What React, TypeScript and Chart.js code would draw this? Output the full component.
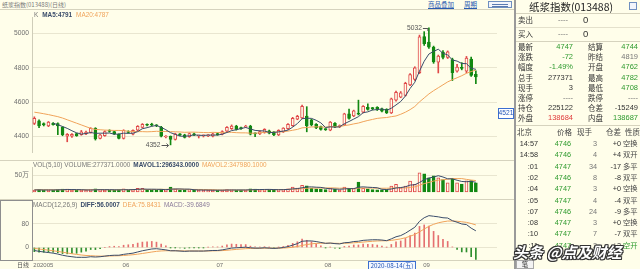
import React, { useEffect, useRef } from "react";
import { Chart, registerables } from "chart.js";
Chart.register(...registerables);

// ---------- data ----------
const dates = [
  "2020-04-30",
  "2020-05-06","2020-05-07","2020-05-08","2020-05-11","2020-05-12","2020-05-13","2020-05-14","2020-05-15","2020-05-18","2020-05-19",
  "2020-05-20","2020-05-21","2020-05-22","2020-05-25","2020-05-26","2020-05-27","2020-05-28","2020-05-29",
  "2020-06-01","2020-06-02","2020-06-03","2020-06-04","2020-06-05","2020-06-08","2020-06-09","2020-06-10","2020-06-11","2020-06-12",
  "2020-06-15","2020-06-16","2020-06-17","2020-06-18","2020-06-19","2020-06-22","2020-06-23","2020-06-24","2020-06-29","2020-06-30",
  "2020-07-01","2020-07-02","2020-07-03","2020-07-06","2020-07-07","2020-07-08","2020-07-09","2020-07-10","2020-07-13","2020-07-14",
  "2020-07-15","2020-07-16","2020-07-17","2020-07-20","2020-07-21","2020-07-22","2020-07-23","2020-07-24","2020-07-27","2020-07-28",
  "2020-07-29","2020-07-30","2020-07-31",
  "2020-08-03","2020-08-04","2020-08-05","2020-08-06","2020-08-07","2020-08-10","2020-08-11","2020-08-12","2020-08-13","2020-08-14",
  "2020-08-17","2020-08-18","2020-08-19","2020-08-20","2020-08-21","2020-08-24","2020-08-25","2020-08-26","2020-08-27","2020-08-28",
  "2020-08-31",
  "2020-09-01","2020-09-02","2020-09-03","2020-09-04","2020-09-07","2020-09-08","2020-09-09","2020-09-10","2020-09-11","2020-09-14",
  "2020-09-15","2020-09-16",
];
const opens = [4477,4492,4476,4462,4478,4476,4455,4402,4402,4418,4412,4416,4424,4448,4390,4406,4436,4430,4414,4390,
  4430,4414,4438,4454,4470,4468,4468,4456,4398,4402,4384,4414,4410,4400,4416,4404,4404,4404,4402,4418,
  4414,4432,4446,4462,4452,4456,4462,4418,4416,4425,4434,4428,4410,4428,4446,4464,4502,4508,4520,4498,
  4472,4458,4442,4438,4478,4458,4468,4532,4520,4536,4542,4570,4564,4570,4562,4558,4538,4612,4630,4640,
  4700,4732,4772,4982,4950,4920,4832,4892,4860,4848,4780,4802,4780,4850,4762];
const highs = [4515,4498,4480,4488,4482,4480,4458,4418,4418,4420,4436,4432,4452,4452,4414,4434,4440,4432,4416,4440,
  4434,4440,4464,4476,4474,4478,4470,4460,4406,4404,4420,4418,4414,4422,4420,4408,4410,4412,4420,4422,
  4434,4458,4468,4466,4456,4466,4466,4422,4434,4446,4438,4430,4440,4452,4476,4512,4524,4584,4574,4502,
  4476,4462,4446,4488,4482,4468,4536,4560,4554,4612,4580,4590,4570,4574,4566,4562,4624,4664,4662,4716,
  4766,4806,4990,5010,5032,4926,4874,4900,4898,4856,4820,4830,4866,4862,4782];
const lows = [4470,4452,4462,4458,4466,4412,4405,4370,4396,4402,4408,4412,4420,4380,4386,4402,4426,4412,4386,4386,
  4420,4410,4434,4450,4462,4462,4458,4398,4392,4352,4380,4406,4392,4396,4406,4392,4398,4400,4398,4408,
  4410,4428,4442,4438,4442,4452,4410,4400,4412,4420,4416,4406,4406,4424,4442,4460,4498,4504,4428,4462,
  4446,4438,4436,4434,4452,4452,4464,4502,4516,4526,4538,4554,4555,4552,4544,4534,4534,4606,4626,4636,
  4696,4726,4766,4930,4912,4826,4770,4852,4854,4726,4774,4788,4770,4750,4708];
const closes = [4507,4462,4468,4484,4470,4462,4412,4414,4414,4406,4428,4426,4448,4386,4410,4430,4430,4416,4390,4436,
  4424,4436,4460,4472,4466,4467,4462,4402,4402,4384,4416,4410,4396,4418,4410,4404,4405,4408,4416,4412,
  4430,4454,4462,4442,4446,4462,4414,4416,4430,4442,4420,4410,4437,4449,4472,4506,4518,4576,4463,4468,
  4450,4442,4441,4484,4456,4464,4532,4506,4550,4530,4576,4558,4563,4558,4548,4538,4620,4658,4654,4710,
  4760,4800,4980,4940,4920,4834,4868,4860,4893,4772,4804,4796,4856,4756,4747];
const ma5 = [null,null,null,null,4478,4469,4459,4448,4434,4422,4415,4418,4424,4419,4420,4420,4421,4414,4415,4420,
  4419,4420,4429,4446,4452,4460,4465,4454,4440,4423,4413,4403,4402,4405,4410,4408,4407,4409,4409,4409,
  4414,4424,4435,4440,4447,4453,4445,4436,4434,4433,4424,4424,4428,4432,4438,4455,4476,4504,4507,4506,
  4495,4480,4453,4457,4455,4457,4475,4488,4502,4516,4539,4544,4555,4557,4561,4553,4565,4584,4604,4636,
  4680,4716,4781,4838,4880,4895,4908,4884,4875,4845,4839,4825,4824,4797,4791];
const ma20 = [4542,4538,4533,4528,4522,4516,4508,4498,4488,4478,4468,4458,4448,4442,4440,4438,4437,4436,4436,4435,
  4431,4430,4429,4429,4428,4429,4431,4430,4430,4429,4428,4427,4425,4426,4426,4425,4424,4423,4425,4424,
  4424,4425,4425,4423,4422,4422,4420,4420,4422,4425,4425,4425,4427,4428,4432,4437,4442,4451,4453,4456,
  4457,4456,4455,4457,4458,4458,4464,4468,4474,4479,4487,4494,4500,4506,4509,4511,4516,4520,4530,4542,
  4557,4575,4602,4625,4648,4667,4684,4701,4718,4731,4742,4754,4768,4778,4787];
// volume in 万手
const volumes = [6,7,5.5,6.5,6,7.5,9,8.5,6,5.5,6,5.5,7,9.5,7,6,5.5,6,7,10,
  6,7,11,11.5,7,6,6,9,7,15,9,6,6.5,7,6,5.5,5,5.5,6,5.5,
  6,7,6.5,6,5.5,6,10,9,6.5,7,7,7.5,7,7.5,10,15,12,20,19,12,
  10,9,7,11,8,6,15,11,11,30,11,10,7,6.5,6.5,7,18,23,13,18,
  33,23,58,55,43,49,43,38,28,41.8,28,24,34,34.5,27.7371];
const mavol1 = [6.3,6.4,6.2,6.1,6.2,6.5,6.9,7.5,7.4,7.3,7.0,6.3,6.0,6.7,7.0,7.0,7.0,6.8,6.3,6.9,
  6.9,7.2,8.2,9.1,8.5,8.5,8.3,7.9,7.0,8.6,9.2,9.2,8.7,8.7,6.9,6.2,6.0,5.8,5.6,5.5,
  5.6,6.0,6.2,6.2,6.2,6.2,6.8,7.3,7.4,7.7,7.9,7.4,7.0,7.2,7.8,9.4,10.3,12.9,15.2,15.6,
  14.6,14.0,11.4,9.8,9.0,8.2,9.4,10.2,10.2,14.6,15.6,14.6,13.8,12.9,8.2,7.4,9.0,12.2,13.5,15.8,
  21.0,22.0,29.0,37.4,42.4,45.6,49.6,45.6,40.2,40.0,35.8,32.0,31.2,32.5,29.6];
const mavol2 = [6.8,6.8,6.7,6.7,6.6,6.6,6.7,6.8,6.8,6.75,6.75,6.6,6.75,7.05,7.15,7.0,6.65,6.4,6.5,6.95,
  6.95,7.1,7.5,7.7,7.7,7.7,7.75,8.05,8.05,8.55,8.85,8.75,8.3,7.85,7.75,7.7,7.6,7.25,7.15,6.2,
  5.9,6.0,6.0,5.9,5.85,5.9,6.4,6.75,6.8,6.95,7.05,7.1,7.15,7.3,7.75,8.65,8.85,9.95,11.2,11.7,
  12.0,12.15,12.15,12.5,12.3,11.4,11.7,10.8,10.0,11.8,11.9,12.0,12.0,11.55,11.4,11.5,11.8,13.0,13.2,12.0,
  14.2,15.5,20.6,25.45,29.1,33.3,35.8,37.3,38.8,41.2,40.7,40.8,38.4,36.3,34.8];
const diff = [-10,-13,-15,-17,-19,-22,-26,-29,-31,-33,-33,-33,-31,-32,-31,-29,-27,-26,-26,-23,
  -21,-19,-15,-11,-8,-5,-4,-6,-8,-11,-11,-12,-13,-12,-12,-12,-12,-11,-10,-10,
  -8,-5,-2,-1,0,1,-1,-2,-2,-1,-2,-3,-2,0,3,8,13,21,22,22,
  20,17,14,15,13,12,16,17,20,21,24,25,26,26,25,23,29,36,40,48,
  58,68,88,100,107,105,103,100,99,90,85,79,77,65,56];
const dea = [-3,-5,-7,-9,-11,-13.2,-15.8,-18.4,-20.9,-23.3,-25.2,-26.8,-27.6,-28.5,-29,-29,-28.6,-28.1,-27.7,-26.8,
  -25.6,-24.3,-22.4,-20.1,-17.7,-15.2,-13,-11.6,-10.9,-10.9,-10.9,-11.1,-11.5,-11.6,-11.7,-11.8,-11.8,-11.6,-11.3,-11,
  -10.4,-9.3,-7.8,-6.4,-5.1,-3.9,-3.3,-3,-2.8,-2.4,-2.3,-2.4,-2.3,-1.8,-0.8,1,3.4,6.9,9.9,12.3,
  13.8,14.4,14.3,14.4,14.1,13.7,14.2,14.8,15.8,16.8,18.2,19.6,20.9,21.9,22.5,22.6,23.9,26.3,29,32.8,
  37.8,43.8,52.6,62.1,71.1,77.9,82.9,86.3,88.8,89,88.2,86.4,84.5,80.6,75.8];
const macd = [-14,-16,-16,-16,-16,-17.6,-20.4,-21.2,-20.2,-19.4,-15.6,-12.4,-6.8,-7,-4,0,3.2,4.2,3.4,7.6,
  9.2,10.6,14.8,18.2,19.4,20.4,18,11.2,5.8,-0.2,-0.2,-1.8,-3,-0.8,-0.6,-0.4,-0.4,1.2,2.6,2,
  4.8,8.6,11.6,10.8,10.2,9.8,4.6,2,1.6,2.8,0.6,-1.2,0.6,3.6,7.6,14,19.2,28.2,24.2,19.4,
  12.4,5.2,-0.6,1.2,-2.2,-3.4,3.6,4.4,8.4,8.4,11.6,10.8,10.2,8.2,5,0.8,10.2,19.4,22,30.4,
  40.4,48.4,70.8,75.8,71.8,54.2,40.2,27.4,20.4,2,-6.4,-14.8,-15,-31.2,-39.7];

const priceTicks = [4400, 4600, 4800, 5000];
const volTicks = [50];
const macdTicks = [0, 80];
const monthLabels = ["202005", "06", "07", "08", "09"];
const crossDate = "2020-08-14";
const crossDateLabel = "2020-08-14(五)";
const crossPrice = 4521;

const quoteRows = [
  ["最新", "4747", "结算", "4744"],
  ["涨跌", "-72", "昨结", "4819"],
  ["幅度", "-1.49%", "开盘", "4762"],
  ["总手", "277371", "最高", "4782"],
  ["现手", "3", "最低", "4708"],
  ["涨停", "----", "跌停", "----"],
  ["持仓", "225122", "仓差", "-15249"],
  ["外盘", "138684", "内盘", "138687"],
];
const tradeHeader = ["北京", "价格", "现手", "仓差", "性质"];
const tradeRows = [
  ["14:57", "4746", "3", "+0", "空换"],
  ["14:58", "4746", "4", "+4", "双开"],
  [":01", "4747", "34", "-17", "多平"],
  [":02", "4746", "8", "-8", "双平"],
  [":04", "4747", "3", "+0", "空换"],
  [":05", "4747", "4", "-4", "双平"],
  [":07", "4746", "24", "-9", "多平"],
  [":08", "4747", "3", "+0", "空换"],
  [":10", "4747", "7", "-7", "双平"],
  [":11", "4747", "2", "+2", "空开"],
];

// ---------- styles ----------
const BG = "#FFFEEA";
const RED = "#E04848";
const GREEN = "#128812";
const NAVY = "#3A4C6A";
const ORANGE = "#F0A35A";
const GRID = "#E9E6D0";
const AXIS = "#CFCDB9";
const LINE = "#D6D3BE";
const FONT = "'Liberation Sans', 'Noto Sans CJK SC', sans-serif";
const CJK = "'Noto Sans CJK SC', 'Liberation Sans', sans-serif";
const QG = "#2E9A2E";
const QR = "#E03A3A";
const QD = "#333333";
const QGRAY = "#777777";

const quoteColors = [
  [QG, QG], [QG, QGRAY], [QG, QG], [QD, QG], [QD, QG], [QGRAY, QGRAY], [QD, QD], [QR, QG],
];

const up = closes.map((c, i) => c >= opens[i]);
const pts = (arr: (number | null)[]) => arr.map((v, i) => ({ x: i, y: v }));
const monthStarts = dates
  .map((d, i) => (i > 0 && d.slice(5, 7) !== dates[i - 1].slice(5, 7) ? i : -1))
  .filter((i) => i >= 0);
const tickIdx = [0, ...monthStarts.slice(1)];

function yAxis(min: number, max: number, ticks: number[], fmt?: (v: number) => string) {
  return {
    min,
    max,
    bounds: "data",
    position: "left" as const,
    afterFit: (s: any) => { s.width = 32; },
    afterBuildTicks: (s: any) => {
      s.min = min;
      s.max = max;
      s.ticks = ticks.map((v) => ({ value: v }));
    },
    ticks: {
      font: { size: 6.7, family: FONT },
      color: "#6E6E6E",
      padding: 3,
      callback: (v: any) => (fmt ? fmt(v) : String(v)),
    },
    grid: { color: GRID, drawTicks: false, lineWidth: 1 },
    border: { display: true, color: AXIS },
  };
}

const X_MIN = -0.5;
const X_MAX = 98.5;
const xHidden = {
  type: "linear" as const,
  min: X_MIN,
  max: X_MAX,
  bounds: "data",
  offset: false,
  display: false,
  afterBuildTicks: (s: any) => {
    s.min = X_MIN;
    s.max = X_MAX;
    s.ticks = [{ value: X_MIN }, { value: X_MAX }];
  },
};

function lineDs(data: (number | null)[], color: string) {
  return {
    type: "line" as const,
    data: pts(data),
    borderColor: color,
    borderWidth: 1,
    pointRadius: 0,
    tension: 0,
    order: 0,
  };
}

const extremesPlugin = {
  id: "extremes",
  afterDatasetsDraw(chart: any) {
    const { ctx, scales } = chart;
    const x = scales.x, y = scales.y;
    const hiIdx = highs.indexOf(Math.max(...highs));
    const loIdx = lows.indexOf(Math.min(...lows));
    ctx.save();
    ctx.font = `6.7px ${FONT}`;
    ctx.fillStyle = "#555";
    ctx.strokeStyle = "#555";
    ctx.lineWidth = 1;
    ctx.textBaseline = "middle";
    ctx.textAlign = "right";
    let px = x.getPixelForValue(hiIdx);
    let py = y.getPixelForValue(highs[hiIdx]);
    ctx.fillText(String(highs[hiIdx]), px - 7, py);
    ctx.beginPath();
    ctx.moveTo(px - 6, Math.round(py) + 0.5);
    ctx.lineTo(px - 1, Math.round(py) + 0.5);
    ctx.lineTo(px - 1, Math.round(py) + 3);
    ctx.stroke();
    px = x.getPixelForValue(loIdx);
    py = y.getPixelForValue(lows[loIdx]);
    ctx.fillText(String(lows[loIdx]), px - 10, py);
    ctx.beginPath();
    ctx.moveTo(px - 9, Math.round(py) + 0.5);
    ctx.lineTo(px - 2, Math.round(py) + 0.5);
    ctx.moveTo(px - 4, Math.round(py) - 1.5);
    ctx.lineTo(px - 2, Math.round(py) + 0.5);
    ctx.lineTo(px - 4, Math.round(py) + 2.5);
    ctx.stroke();
    const cy = y.getPixelForValue(crossPrice) - 3;
    const left = chart.chartArea.right + 1;
    ctx.fillStyle = "#FFFFFF";
    ctx.fillRect(left, cy - 5, 16, 11);
    ctx.strokeStyle = "#3C6FD0";
    ctx.strokeRect(left + 0.5, Math.round(cy - 5) + 0.5, 15, 10);
    ctx.fillStyle = "#2456B8";
    ctx.textAlign = "center";
    ctx.fillText(String(crossPrice), left + 8, cy + 0.5);
    ctx.restore();
  },
};

const dateAxisPlugin = {
  id: "dateAxis",
  afterDraw(chart: any) {
    const { ctx, scales, chartArea } = chart;
    const x = scales.x;
    ctx.save();
    ctx.font = `6px ${FONT}`;
    ctx.fillStyle = "#6E6E6E";
    ctx.textBaseline = "middle";
    ctx.textAlign = "left";
    tickIdx.forEach((idx, k) => {
      ctx.fillText(monthLabels[k], x.getPixelForValue(idx) - 1, chartArea.bottom + 5);
    });
    const i = dates.indexOf(crossDate);
    const px = Math.round(x.getPixelForValue(i));
    ctx.font = `6.3px ${CJK}`;
    const w = Math.ceil(ctx.measureText(crossDateLabel).width) + 5;
    const top = chartArea.bottom + 1;
    ctx.fillStyle = "#F4F8FF";
    ctx.fillRect(px, top, w, 8);
    ctx.strokeStyle = "#3C6FD0";
    ctx.lineWidth = 1;
    ctx.strokeRect(px + 0.5, top + 0.5, w - 1, 8);
    ctx.fillStyle = "#2456B8";
    ctx.fillText(crossDateLabel, px + 2.5, top + 4.8);
    ctx.restore();
  },
};

type TP = { x: number; y: number; text: string; color?: string; size?: number; align?: "left" | "right" | "center"; bold?: boolean; family?: string };
function T({ x, y, text, color = QD, size = 8, align = "left", bold = false, family = FONT }: TP) {
  const lh = Math.round(size * 1.3);
  const style: any = {
    position: "absolute",
    top: y - lh / 2,
    height: lh,
    lineHeight: `${lh}px`,
    fontSize: size,
    color,
    whiteSpace: "nowrap",
    fontFamily: family,
    fontWeight: bold ? 700 : 400,
  };
  if (align === "right") style.right = 640 - x;
  else if (align === "center") { style.left = x; style.transform = "translateX(-50%)"; }
  else style.left = x;
  return <div style={style}>{text}</div>;
}

function HLine({ y, x1, x2, color = LINE }: { y: number; x1: number; x2: number; color?: string }) {
  return <div style={{ position: "absolute", left: x1, top: y, width: x2 - x1, height: 1, background: color }} />;
}

export default function App() {
  const mainRef = useRef<HTMLCanvasElement>(null);
  const volRef = useRef<HTMLCanvasElement>(null);
  const macdRef = useRef<HTMLCanvasElement>(null);

  useEffect(() => {
    const charts: Chart[] = [];
    const common = {
      animation: false as const,
      responsive: false,
      maintainAspectRatio: false,
      events: [] as any[],
      plugins: { legend: { display: false }, tooltip: { enabled: false } },
    };

    charts.push(
      new Chart(mainRef.current!, {
        type: "bar",
        data: {
          datasets: [
            {
              type: "bar",
              data: dates.map((_, i) => ({ x: i, y: [lows[i], highs[i]] })) as any,
              backgroundColor: up.map((u) => (u ? RED : GREEN)),
              barThickness: 1,
              grouped: false,
              order: 2,
            } as any,
            {
              type: "bar",
              data: dates.map((_, i) => ({ x: i, y: [Math.min(opens[i], closes[i]), Math.max(opens[i], closes[i])] })) as any,
              backgroundColor: up.map((u) => (u ? BG : GREEN)),
              borderColor: up.map((u) => (u ? RED : GREEN)),
              borderWidth: 1,
              borderSkipped: false,
              barThickness: 3,
              minBarLength: 1,
              grouped: false,
              order: 1,
            } as any,
            lineDs(ma5, NAVY),
            lineDs(ma20, ORANGE),
          ],
        },
        options: {
          ...common,
          layout: { padding: { left: 0, right: 17, top: 0, bottom: 0 } },
          scales: { x: xHidden, y: yAxis(4305, 5095, priceTicks) as any },
        } as any,
        plugins: [extremesPlugin],
      })
    );

    charts.push(
      new Chart(volRef.current!, {
        type: "bar",
        data: {
          datasets: [
            {
              type: "bar",
              data: pts(volumes) as any,
              backgroundColor: up.map((u) => (u ? BG : GREEN)),
              borderColor: up.map((u) => (u ? RED : GREEN)),
              borderWidth: 1,
              borderSkipped: false,
              barThickness: 3,
              grouped: false,
              order: 1,
            } as any,
            lineDs(mavol1, NAVY),
            lineDs(mavol2, ORANGE),
          ],
        },
        options: {
          ...common,
          layout: { padding: { left: 0, right: 17, top: 0, bottom: 0 } },
          scales: { x: xHidden, y: yAxis(-3, 76, volTicks, (v) => `${v}万`) as any },
        } as any,
      })
    );

    charts.push(
      new Chart(macdRef.current!, {
        type: "bar",
        data: {
          datasets: [
            {
              type: "bar",
              data: pts(macd) as any,
              backgroundColor: macd.map((v) => (v >= 0 ? "#E57070" : "#2F8F2F")),
              barThickness: 1,
              grouped: false,
              order: 1,
            } as any,
            lineDs(diff, NAVY),
            lineDs(dea, ORANGE),
          ],
        },
        options: {
          ...common,
          layout: { padding: { left: 0, right: 17, top: 0, bottom: 9 } },
          scales: { x: xHidden, y: yAxis(-42, 136, macdTicks) as any },
        } as any,
        plugins: [dateAxisPlugin],
      })
    );

    return () => charts.forEach((c) => c.destroy());
  }, []);

  const qy0 = 47;
  const qdy = 10.2;
  const ty0 = 143.5;
  const tdy = 11.3;

  return (
    <div style={{ position: "absolute", left: 0, top: 0, width: 640, height: 269, background: BG, overflow: "hidden", fontFamily: FONT }}>
      <T x={2} y={4.5} text="纸浆指数(013488)(日线)" size={6} color="#7A7A7A" family={CJK} />
      <div style={{ position: "absolute", left: 428, top: 0, fontSize: 6.5, lineHeight: "9px", color: "#2A5BB0", textDecoration: "underline", fontFamily: CJK }}>商品叠加</div>
      <div style={{ position: "absolute", left: 464, top: 0, fontSize: 6.5, lineHeight: "9px", color: "#2A5BB0", textDecoration: "underline", fontFamily: CJK }}>周期</div>
      <div style={{ position: "absolute", left: 488, top: 1, width: 24, height: 7, border: "1px solid #6F8FC0", boxSizing: "border-box", background: "#F2F5FB" }}>
        <div style={{ position: "absolute", left: 3, top: 2, width: 16, height: 1, background: "#5A7AB0" }} />
        <div style={{ position: "absolute", left: 3, top: 4, width: 16, height: 1, background: "#5A7AB0" }} />
      </div>
      <HLine y={9} x1={0} x2={514} />

      <canvas ref={mainRef} width={514} height={150} style={{ position: "absolute", left: 0, top: 10, width: 514, height: 150 }} />
      <HLine y={160} x1={0} x2={514} />
      <canvas ref={volRef} width={514} height={40} style={{ position: "absolute", left: 0, top: 160, width: 514, height: 40 }} />
      <HLine y={199} x1={0} x2={514} />
      <canvas ref={macdRef} width={514} height={69} style={{ position: "absolute", left: 0, top: 200, width: 514, height: 69 }} />
      <HLine y={260} x1={0} x2={514} />
      <div style={{ position: "absolute", left: 0, top: 200, width: 33, height: 61, border: "1px solid #8E8E8E", boxSizing: "border-box" }} />
      <T x={17} y={265} text="日线" size={6} color="#555" family={CJK} />

      <div style={{ position: "absolute", left: 34, top: 11, fontSize: 6.4, lineHeight: "8px", whiteSpace: "nowrap", fontFamily: FONT }}>
        <span style={{ color: "#777" }}>K</span>
        <span style={{ color: NAVY, fontWeight: 700, marginLeft: 4 }}>MA5:4791</span>
        <span style={{ color: ORANGE, marginLeft: 4 }}>MA20:4787</span>
      </div>
      <div style={{ position: "absolute", left: 33, top: 161, fontSize: 6.4, lineHeight: "8px", whiteSpace: "nowrap", fontFamily: FONT }}>
        <span style={{ color: "#777" }}>VOL(5,10) VOLUME:277371.0000</span>
        <span style={{ color: NAVY, fontWeight: 700, marginLeft: 3 }}>MAVOL1:296343.0000</span>
        <span style={{ color: ORANGE, marginLeft: 3 }}>MAVOL2:347980.1000</span>
      </div>
      <div style={{ position: "absolute", left: 33, top: 201, fontSize: 6.4, lineHeight: "8px", whiteSpace: "nowrap", fontFamily: FONT }}>
        <span style={{ color: "#777" }}>MACD(12,26,9)</span>
        <span style={{ color: NAVY, fontWeight: 700, marginLeft: 3 }}>DIFF:56.0007</span>
        <span style={{ color: ORANGE, marginLeft: 3 }}>DEA:75.8431</span>
        <span style={{ color: "#8A7A9A", marginLeft: 3 }}>MACD:-39.6849</span>
      </div>

      <div style={{ position: "absolute", left: 514, top: 0, width: 2, height: 269, background: "#9A9A9A" }} />

      <T x={571} y={7} text="纸浆指数(013488)" size={10.5} align="center" color="#222" family={CJK} />
      <div style={{ position: "absolute", left: 629, top: 2, width: 8, height: 8, border: "1px solid #6F8FC0", boxSizing: "border-box", background: "#F2F5FB" }} />
      <HLine y={13} x1={516} x2={640} />
      <T x={518} y={20} text="卖出" size={7.5} family={CJK} />
      <T x={558} y={20} text="----" size={7.5} color={QGRAY} />
      <T x={583} y={20} text="0" size={9.5} />
      <HLine y={27} x1={516} x2={640} color="#E4E1CC" />
      <T x={518} y={34} text="买入" size={7.5} family={CJK} />
      <T x={558} y={34} text="----" size={7.5} color={QGRAY} />
      <T x={583} y={34} text="0" size={9.5} />
      <HLine y={41} x1={516} x2={640} />
      {quoteRows.map((r, i) => (
        <React.Fragment key={"q" + i}>
          <T x={518} y={qy0 + i * qdy} text={r[0]} size={7.5} family={CJK} />
          <T x={573} y={qy0 + i * qdy} text={r[1]} size={7.5} align="right" color={quoteColors[i][0]} />
          <T x={588} y={qy0 + i * qdy} text={r[2]} size={7.5} family={CJK} />
          <T x={638} y={qy0 + i * qdy} text={r[3]} size={7.5} align="right" color={quoteColors[i][1]} />
        </React.Fragment>
      ))}
      <HLine y={125} x1={516} x2={640} />
      <T x={517} y={132} text={tradeHeader[0]} size={7.5} family={CJK} color="#444" />
      <T x={557} y={132} text={tradeHeader[1]} size={7.5} family={CJK} color="#444" />
      <T x={577} y={132} text={tradeHeader[2]} size={7.5} family={CJK} color="#444" />
      <T x={606} y={132} text={tradeHeader[3]} size={7.5} family={CJK} color="#444" />
      <T x={625} y={132} text={tradeHeader[4]} size={7.5} family={CJK} color="#444" />
      {tradeRows.map((r, i) => (
        <React.Fragment key={"t" + i}>
          <T x={538} y={ty0 + i * tdy} text={r[0]} size={7.3} align="right" color="#333" />
          <T x={571} y={ty0 + i * tdy} text={r[1]} size={7.3} align="right" color={QG} />
          <T x={597} y={ty0 + i * tdy} text={r[2]} size={7.3} align="right" color={QGRAY} />
          <T x={621} y={ty0 + i * tdy} text={r[3]} size={7.3} align="right" color="#333" />
          <T x={623} y={ty0 + i * tdy} text={r[4]} size={7.3} family={CJK} color={r[4] === "空开" ? QG : "#444"} />
        </React.Fragment>
      ))}
      <div style={{ position: "absolute", left: 516, top: 260, width: 18, height: 9, border: "1px solid #A8A8A8", boxSizing: "border-box", background: "#F3F3F3", fontSize: 6.5, lineHeight: "7px", textAlign: "center", fontFamily: CJK, color: "#333" }}>笔</div>

      <div
        style={{
          position: "absolute",
          left: 513,
          top: 243,
          fontSize: 15,
          lineHeight: "18px",
          fontFamily: CJK,
          fontWeight: 700,
          fontStyle: "italic",
          color: "#FFFFFF",
          whiteSpace: "nowrap",
          textShadow: "1px 0 0 #333, -1px 0 0 #333, 0 1px 0 #333, 0 -1px 0 #333, 1px 1px 0 #333, -1px -1px 0 #333, 1px -1px 0 #333, -1px 1px 0 #333",
        }}
      >
        头条 @点及财经
      </div>
    </div>
  );
}
